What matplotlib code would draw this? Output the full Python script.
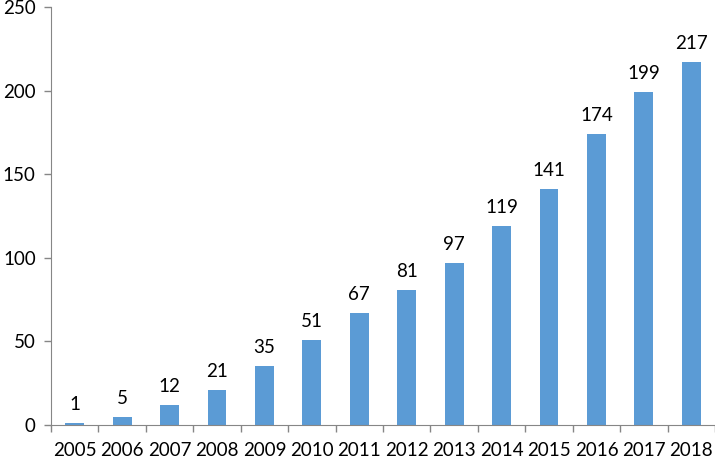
import matplotlib.pyplot as plt
import numpy as np

years = ["2005", "2006", "2007", "2008", "2009", "2010", "2011",
         "2012", "2013", "2014", "2015", "2016", "2017", "2018"]
counts = [1, 5, 12, 21, 35, 51, 67, 81, 97, 119, 141, 174, 199, 217]
y_ticks = [0, 50, 100, 150, 200, 250]

plt.rcParams["font.family"] = ["Lato", "DejaVu Sans"]

fig = plt.figure(figsize=(7.15, 4.58), dpi=100)
ax = fig.add_axes([51 / 715, 1 - 425 / 458, 1 - 51 / 715, (425 - 7) / 458])

x = np.arange(len(years))
bars = ax.bar(x, counts, width=0.4, color="#5B9BD5")

# value labels above each bar
for xi, v in zip(x, counts):
    ax.text(xi, v + 6, str(v), ha="center", va="bottom", fontsize=13.5)

ax.set_xlim(-0.5, len(years) - 0.5)
ax.set_ylim(0, 250)
ax.set_yticks(y_ticks)
ax.set_yticklabels([str(t) for t in y_ticks], fontsize=13.5)

# category labels without ticks, boundary ticks as minor ticks
ax.set_xticks(x)
ax.set_xticklabels(years, fontsize=13.5)
ax.set_xticks(np.arange(-0.5, len(years), 1.0), minor=True)
ax.tick_params(axis="x", which="major", length=0, pad=12)
ax.tick_params(axis="x", which="minor", length=5, color="#868686", width=1)
ax.tick_params(axis="y", length=5, color="#868686", width=1, pad=6)

for side in ["top", "right"]:
    ax.spines[side].set_visible(False)
for side in ["left", "bottom"]:
    ax.spines[side].set_color("#868686")

fig.savefig("out.png", dpi=100)
